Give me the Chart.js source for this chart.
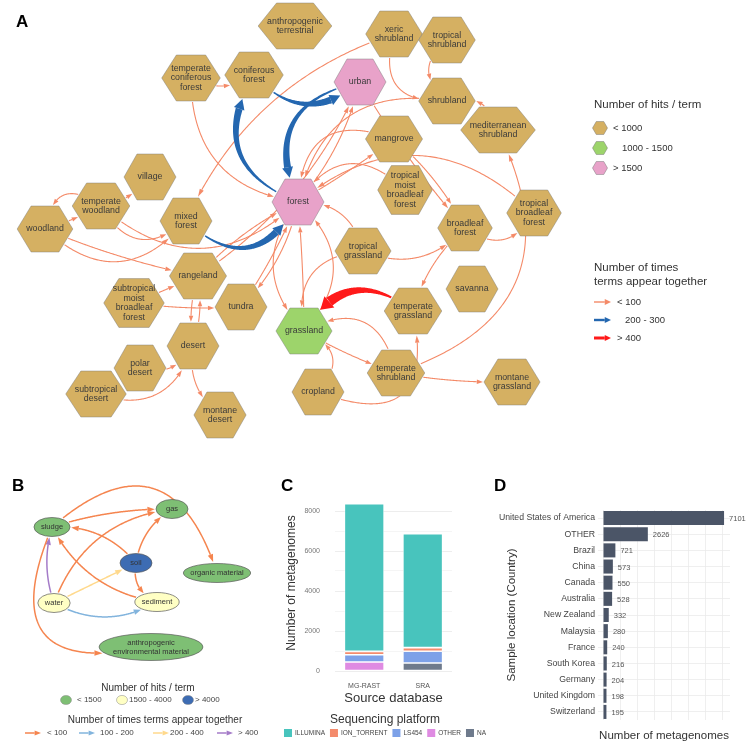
<!DOCTYPE html>
<html>
<head>
<meta charset="utf-8">
<title>Habitat terms and metagenome counts</title>
<script src="https://cdn.jsdelivr.net/npm/chart.js@4.4.1/dist/chart.umd.min.js"></script>
<style>
  html, body { margin: 0; padding: 0; background: #ffffff; }
  #figure { position: relative; width: 756px; height: 749px; overflow: hidden; }
  .panel { position: absolute; }
</style>
</head>
<body>
<div id="figure">
  <div class="panel" style="left:0;top:0;width:756px;height:465px"><canvas id="habitatChart"></canvas></div>
  <div class="panel" style="left:0;top:470px;width:275px;height:279px"><canvas id="materialChart"></canvas></div>
  <div class="panel" style="left:250px;top:470px;width:240px;height:279px"><canvas id="platformChart"></canvas></div>
  <div class="panel" style="left:490px;top:470px;width:266px;height:279px"><canvas id="countryChart"></canvas></div>
</div>
<script>
// ---------- A: habitat terms (layout coordinates) ----------
const habitatNames = [
  'anthropogenic terrestrial', 'temperate coniferous forest', 'coniferous forest', 'urban',
  'xeric shrubland', 'tropical shrubland', 'shrubland', 'mediterranean shrubland',
  'mangrove', 'tropical moist broadleaf forest', 'broadleaf forest', 'tropical broadleaf forest',
  'village', 'temperate woodland', 'woodland', 'mixed forest', 'forest',
  'rangeland', 'subtropical moist broadleaf forest', 'tundra', 'tropical grassland',
  'savanna', 'temperate grassland', 'grassland', 'desert', 'polar desert',
  'subtropical desert', 'montane desert', 'cropland', 'temperate shrubland', 'montane grassland'
];
const habitatX = [295, 191, 254, 360, 394, 447, 447, 498, 394, 405, 465, 534, 150, 101, 45, 186, 298,
  198, 134, 241, 363, 472, 413, 304, 193, 140, 96, 220, 318, 396, 512];
const habitatY = [26, 78, 75, 82, 34, 40, 101, 130, 139, 190, 228, 213, 177, 206, 229, 221, 202,
  276, 303, 307, 251, 289, 311, 331, 346, 368, 394, 415, 392, 373, 382];
const habitatHits = ['<1000', '<1000', '<1000', '>1500', '<1000', '<1000', '<1000', '<1000',
  '<1000', '<1000', '<1000', '<1000', '<1000', '<1000', '<1000', '<1000', '>1500',
  '<1000', '<1000', '<1000', '<1000', '<1000', '<1000', '1000-1500', '<1000', '<1000',
  '<1000', '<1000', '<1000', '<1000', '<1000'];
const habitatHitClasses = ['<1000', '1000-1500', '>1500'];
const habitatHitLabels = ['< 1000', '1000 - 1500', '> 1500'];
const habitatTogetherClasses = ['<100', '200-300', '>400'];
const habitatTogetherLabels = ['< 100', '200 - 300', '> 400'];
const habitatLinks = [
  ['temperate coniferous forest', 'coniferous forest', '<100'],
  ['temperate coniferous forest', 'forest', '<100'],
  ['xeric shrubland', 'mixed forest', '<100'],
  ['temperate woodland', 'woodland', '<100'],
  ['woodland', 'temperate woodland', '<100'],
  ['temperate woodland', 'village', '<100'],
  ['temperate woodland', 'mixed forest', '<100'],
  ['temperate woodland', 'forest', '<100'],
  ['woodland', 'mixed forest', '<100'],
  ['woodland', 'rangeland', '<100'],
  ['rangeland', 'forest', '<100'],
  ['rangeland', 'urban', '<100'],
  ['subtropical moist broadleaf forest', 'rangeland', '<100'],
  ['rangeland', 'desert', '<100'],
  ['desert', 'rangeland', '<100'],
  ['subtropical moist broadleaf forest', 'tundra', '<100'],
  ['tundra', 'forest', '<100'],
  ['forest', 'tundra', '<100'],
  ['polar desert', 'desert', '<100'],
  ['subtropical desert', 'desert', '<100'],
  ['desert', 'montane desert', '<100'],
  ['forest', 'grassland', '<100'],
  ['grassland', 'forest', '<100'],
  ['grassland', 'forest', '<100'],
  ['tropical grassland', 'forest', '<100'],
  ['tropical grassland', 'grassland', '<100'],
  ['mangrove', 'forest', '<100'],
  ['forest', 'mangrove', '<100'],
  ['tropical moist broadleaf forest', 'forest', '<100'],
  ['tropical broadleaf forest', 'forest', '<100'],
  ['shrubland', 'forest', '<100'],
  ['forest', 'urban', '<100'],
  ['urban', 'broadleaf forest', '<100'],
  ['mangrove', 'broadleaf forest', '<100'],
  ['xeric shrubland', 'shrubland', '<100'],
  ['tropical shrubland', 'shrubland', '<100'],
  ['mediterranean shrubland', 'shrubland', '<100'],
  ['temperate shrubland', 'mediterranean shrubland', '<100'],
  ['broadleaf forest', 'tropical broadleaf forest', '<100'],
  ['tropical grassland', 'broadleaf forest', '<100'],
  ['broadleaf forest', 'temperate grassland', '<100'],
  ['temperate shrubland', 'grassland', '<100'],
  ['grassland', 'temperate shrubland', '<100'],
  ['cropland', 'grassland', '<100'],
  ['cropland', 'temperate grassland', '<100'],
  ['temperate shrubland', 'montane grassland', '<100'],
  ['forest', 'coniferous forest', '200-300'],
  ['urban', 'forest', '200-300'],
  ['coniferous forest', 'urban', '200-300'],
  ['mixed forest', 'forest', '200-300'],
  ['temperate grassland', 'grassland', '>400']
];

// ---------- B: environmental material terms ----------
const materialNames = ['sludge', 'gas', 'soil', 'organic material', 'water', 'sediment',
  'anthropogenic environmental material'];
const materialX = [52, 172, 136, 217, 54, 157, 151];
const materialY = [57, 39, 93, 103, 133, 132, 177];
const materialHits = ['<1500', '<1500', '>4000', '<1500', '1500-4000', '1500-4000', '<1500'];
const materialHitClasses = ['<1500', '1500-4000', '>4000'];
const materialHitLabels = ['< 1500', '1500 - 4000', '> 4000'];
const materialTogetherClasses = ['<100', '100-200', '200-400', '>400'];
const materialTogetherLabels = ['< 100', '100 - 200', '200 - 400', '> 400'];
const materialLinks = [
  ['sludge', 'gas', '<100'],
  ['sludge', 'organic material', '<100'],
  ['soil', 'sludge', '<100'],
  ['soil', 'gas', '<100'],
  ['soil', 'sediment', '<100'],
  ['water', 'gas', '<100'],
  ['water', 'soil', '200-400'],
  ['water', 'sediment', '100-200'],
  ['water', 'sludge', '>400'],
  ['sediment', 'sludge', '<100'],
  ['sludge', 'anthropogenic environmental material', '<100']
];

// ---------- C: metagenomes per source database ----------
const sourceDatabases = ['MG-RAST', 'SRA'];
const platformNames = ['ILLUMINA', 'ION_TORRENT', 'LS454', 'OTHER', 'NA'];
const illuminaCounts = [7385, 5700];
const ionTorrentCounts = [165, 185];
const ls454Counts = [365, 585];
const otherPlatformCounts = [450, 0];
const naPlatformCounts = [0, 400];
const platformTicks = [0, 2000, 4000, 6000, 8000];

// ---------- D: metagenomes per country ----------
const countries = ['United States of America', 'OTHER', 'Brazil', 'China', 'Canada', 'Australia',
  'New Zealand', 'Malaysia', 'France', 'South Korea', 'Germany', 'United Kingdom', 'Switzerland'];
const countryCounts = [7101, 2626, 721, 573, 550, 528, 332, 280, 240, 216, 204, 198, 195];

// ---------- styles ----------
const FONT = "'Liberation Sans', Arial, Helvetica, sans-serif";
const habitatHitColors = { '<1000': '#D5B062', '1000-1500': '#9DD46B', '>1500': '#E8A2C9' };
const habitatLinkStyles = {
  '<100': { color: '#F48A68', width: 1.1, head: 6, headWidth: 4.5 },
  '200-300': { color: '#2467B0', width: 7, head: 10, headWidth: 11, taper: true },
  '>400': { color: '#FF1A1A', width: 10, head: 12, headWidth: 15, taper: true }
};
// curvature of each habitat link (+ bends to the right of travel)
const habitatLinkBends = [0.3, 0.43, 0.22, 0.8, 0.05, 0.2, 0.6, 0.45, 0.52, 0.05, -0.1, 0.15, 0,
  0.12, 0.12, 0.05, 0.05, -0.15, 0.4, 0.5, 0.3, 0.43, 0.5, 0.02, 0.4, 0.55, 0.68, 0.03, 0.6,
  0.44, 0.47, 0.12, 0.05, -0.1, 0.7, 0.6, 0.5, 0.57, 0.55, 0.35, 0.15, 0.65, 0.05, 0.7, 0.9,
  0.05, -0.58, 0.6, 0.48, 0.64, 0.55];
const materialHitColors = { '<1500': '#7EBF74', '1500-4000': '#FFFFC4', '>4000': '#3D6CB3' };
const materialLinkStyles = {
  '<100': { color: '#F5854F', width: 1.5, head: 7, headWidth: 5.5 },
  '100-200': { color: '#82B4DD', width: 1.5, head: 7, headWidth: 5.5 },
  '200-400': { color: '#FFD98C', width: 1.5, head: 7, headWidth: 5.5 },
  '>400': { color: '#A47BC8', width: 1.5, head: 7, headWidth: 5.5 }
};
const materialLinkBends = [-0.08, -0.75, 0.25, -0.23, 0.4, -0.3, 0, 0.28, -0.16, -0.25, 0.95];
const platformColors = { ILLUMINA: '#48C4BD', ION_TORRENT: '#F48B6C', LS454: '#7DA1E8', OTHER: '#DF8BE2', NA: '#6E7A8C' };
const platformSeries = { ILLUMINA: illuminaCounts, ION_TORRENT: ionTorrentCounts, LS454: ls454Counts, OTHER: otherPlatformCounts, NA: naPlatformCounts };
const thousandSteps = n => Array.from({ length: n }, (_, i) => ({ value: i * 1000 }));

// ---------- network drawing helpers ----------
function hexPath(ctx, x, y, w, h) {
  ctx.beginPath();
  ctx.moveTo(x - w / 2, y);
  ctx.lineTo(x - w / 4, y - h / 2);
  ctx.lineTo(x + w / 4, y - h / 2);
  ctx.lineTo(x + w / 2, y);
  ctx.lineTo(x + w / 4, y + h / 2);
  ctx.lineTo(x - w / 4, y + h / 2);
  ctx.closePath();
}

function hexInside(s, px, py) {
  const hw = s.w / 2 + 1, hh = s.h / 2 + 1;
  const dx = Math.abs(px - s.x), dy = Math.abs(py - s.y);
  return dy <= hh && dx <= hw - (hw / 2) * (dy / hh);
}

function ellipseInside(s, px, py) {
  const dx = (px - s.x) / (s.w / 2 + 1), dy = (py - s.y) / (s.h / 2 + 1);
  return dx * dx + dy * dy <= 1;
}

function clippedCurve(a, b, bend) {
  const dx = b.x - a.x, dy = b.y - a.y;
  const cx = (a.x + b.x) / 2 - dy * bend, cy = (a.y + b.y) / 2 + dx * bend;
  const at = t => {
    const u = 1 - t;
    return { x: u * u * a.x + 2 * u * t * cx + t * t * b.x, y: u * u * a.y + 2 * u * t * cy + t * t * b.y };
  };
  let t0 = 0, t1 = 1;
  for (let t = 0; t <= 1; t += 0.003) { const p = at(t); if (!a.inside(p.x, p.y)) { t0 = t; break; } }
  for (let t = 1; t >= 0; t -= 0.003) { const p = at(t); if (!b.inside(p.x, p.y)) { t1 = t; break; } }
  if (t1 <= t0) return [];
  const pts = [];
  const n = Math.max(4, Math.ceil((t1 - t0) * 150));
  for (let i = 0; i <= n; i++) pts.push(at(t0 + (t1 - t0) * i / n));
  return pts;
}

function straightPoints(x1, y1, x2, y2) {
  const pts = [];
  for (let i = 0; i <= 30; i++) pts.push({ x: x1 + (x2 - x1) * i / 30, y: y1 + (y2 - y1) * i / 30 });
  return pts;
}

function drawLink(ctx, pts, style) {
  if (pts.length < 2) return;
  const tip = pts[pts.length - 1];
  let k = pts.length - 1, run = 0;
  while (k > 0 && run < style.head) {
    run += Math.hypot(pts[k].x - pts[k - 1].x, pts[k].y - pts[k - 1].y);
    k--;
  }
  const base = pts[k];
  ctx.save();
  ctx.fillStyle = style.color;
  ctx.strokeStyle = style.color;
  if (style.taper) {
    const left = [], right = [];
    for (let i = 0; i <= k; i++) {
      const p = pts[i], q = pts[Math.min(i + 1, pts.length - 1)], r = pts[Math.max(i - 1, 0)];
      const tx = q.x - r.x, ty = q.y - r.y, tl = Math.hypot(tx, ty) || 1;
      const w = style.width * (0.2 + 0.8 * i / Math.max(k, 1)) / 2;
      left.push({ x: p.x - ty / tl * w, y: p.y + tx / tl * w });
      right.push({ x: p.x + ty / tl * w, y: p.y - tx / tl * w });
    }
    ctx.beginPath();
    ctx.moveTo(left[0].x, left[0].y);
    left.forEach(p => ctx.lineTo(p.x, p.y));
    right.reverse().forEach(p => ctx.lineTo(p.x, p.y));
    ctx.closePath();
    ctx.fill();
  } else {
    ctx.lineWidth = style.width;
    ctx.beginPath();
    ctx.moveTo(pts[0].x, pts[0].y);
    for (let i = 1; i <= k; i++) ctx.lineTo(pts[i].x, pts[i].y);
    ctx.stroke();
  }
  const ux = tip.x - base.x, uy = tip.y - base.y, ul = Math.hypot(ux, uy) || 1;
  const nx = -uy / ul * style.headWidth / 2, ny = ux / ul * style.headWidth / 2;
  ctx.beginPath();
  ctx.moveTo(tip.x, tip.y);
  ctx.lineTo(base.x + nx, base.y + ny);
  ctx.lineTo(base.x - nx, base.y - ny);
  ctx.closePath();
  ctx.fill();
  ctx.restore();
}

function panelLetter(letter, x, y) {
  return {
    id: 'panelLetter' + letter,
    afterDraw(chart) {
      const ctx = chart.ctx;
      ctx.save();
      ctx.font = `bold 17px ${FONT}`;
      ctx.fillStyle = '#000';
      ctx.textBaseline = 'alphabetic';
      ctx.fillText(letter, x, y);
      ctx.restore();
    }
  };
}

// ---------- A ----------
const habitatNetwork = {
  id: 'habitatNetwork',
  beforeDatasetsDraw(chart) {
    const ctx = chart.ctx;
    const points = chart.getDatasetMeta(0).data;
    ctx.save();
    ctx.font = `8.8px ${FONT}`;
    const shapes = {};
    habitatNames.forEach((name, i) => {
      const lines = name.split(' ');
      const tw = Math.max(...lines.map(l => ctx.measureText(l).width));
      const s = {
        x: points[i].x, y: points[i].y, lines, hits: habitatHits[i],
        w: Math.max(52, tw + 18), h: Math.max(46, lines.length * 9.7 + 10)
      };
      s.inside = (px, py) => hexInside(s, px, py);
      shapes[name] = s;
    });
    habitatLinks.forEach(([from, to, together], i) => {
      drawLink(ctx, clippedCurve(shapes[from], shapes[to], habitatLinkBends[i]), habitatLinkStyles[together]);
    });
    Object.values(shapes).forEach(s => {
      hexPath(ctx, s.x, s.y, s.w, s.h);
      ctx.fillStyle = habitatHitColors[s.hits];
      ctx.fill();
      ctx.lineWidth = 0.8;
      ctx.strokeStyle = 'rgba(120,120,120,0.55)';
      ctx.stroke();
      ctx.fillStyle = '#3a3a3a';
      ctx.textAlign = 'center';
      ctx.textBaseline = 'middle';
      const y0 = s.y - (s.lines.length - 1) * 9.7 / 2;
      s.lines.forEach((l, j) => ctx.fillText(l, s.x, y0 + j * 9.7));
    });
    ctx.restore();
  },
  afterDraw(chart) {
    const ctx = chart.ctx;
    ctx.save();
    ctx.textAlign = 'left';
    ctx.textBaseline = 'middle';
    ctx.fillStyle = '#333';
    ctx.font = `11.5px ${FONT}`;
    ctx.fillText('Number of hits / term', 594, 105);
    const hitLabelX = [613, 622, 613];
    habitatHitClasses.forEach((c, i) => {
      const y = 128 + i * 20;
      hexPath(ctx, 600, y, 15, 13);
      ctx.fillStyle = habitatHitColors[c];
      ctx.fill();
      ctx.lineWidth = 0.8;
      ctx.strokeStyle = 'rgba(120,120,120,0.6)';
      ctx.stroke();
      ctx.fillStyle = '#333';
      ctx.font = `9.5px ${FONT}`;
      ctx.fillText(habitatHitLabels[i], hitLabelX[i], y);
    });
    ctx.font = `11.5px ${FONT}`;
    ctx.fillText('Number of times', 594, 268);
    ctx.fillText('terms appear together', 594, 282);
    const linkLabelX = [617, 625, 617];
    const legendWidths = [1.4, 2.4, 3];
    habitatTogetherClasses.forEach((c, i) => {
      const y = 302 + i * 18;
      const st = habitatLinkStyles[c];
      drawLink(ctx, straightPoints(594, y, 611, y), { color: st.color, width: legendWidths[i], head: 6, headWidth: 6 });
      ctx.fillStyle = '#333';
      ctx.font = `9.5px ${FONT}`;
      ctx.fillText(habitatTogetherLabels[i], linkLabelX[i], y);
    });
    ctx.restore();
  }
};

new Chart(document.getElementById('habitatChart'), {
  type: 'scatter',
  data: {
    datasets: [{
      data: habitatNames.map((n, i) => ({ x: habitatX[i], y: habitatY[i] })),
      pointRadius: 0,
      pointHoverRadius: 0
    }]
  },
  options: {
    responsive: true,
    maintainAspectRatio: false,
    animation: false,
    events: [],
    layout: { padding: 0 },
    scales: {
      x: { display: false, min: 0, max: 756 },
      y: { display: false, min: 0, max: 465, reverse: true }
    },
    plugins: { legend: { display: false }, tooltip: { enabled: false } }
  },
  plugins: [habitatNetwork, panelLetter('A', 16, 27)]
});

// ---------- B ----------
const materialNetwork = {
  id: 'materialNetwork',
  beforeDatasetsDraw(chart) {
    const ctx = chart.ctx;
    const points = chart.getDatasetMeta(0).data;
    ctx.save();
    ctx.font = `7.5px ${FONT}`;
    const shapes = {};
    materialNames.forEach((name, i) => {
      const cut = name.indexOf(' ');
      const lines = name.length > 20 ? [name.slice(0, cut), name.slice(cut + 1)] : [name];
      const tw = Math.max(...lines.map(l => ctx.measureText(l).width));
      const s = {
        x: points[i].x, y: points[i].y, lines, hits: materialHits[i],
        w: Math.max(32, tw + (lines.length > 1 ? 28 : 14)), h: lines.length > 1 ? 27 : 19
      };
      s.inside = (px, py) => ellipseInside(s, px, py);
      shapes[name] = s;
    });
    materialLinks.forEach(([from, to, together], i) => {
      drawLink(ctx, clippedCurve(shapes[from], shapes[to], materialLinkBends[i]), materialLinkStyles[together]);
    });
    Object.values(shapes).forEach(s => {
      ctx.beginPath();
      ctx.ellipse(s.x, s.y, s.w / 2, s.h / 2, 0, 0, Math.PI * 2);
      ctx.fillStyle = materialHitColors[s.hits];
      ctx.fill();
      ctx.lineWidth = 0.7;
      ctx.strokeStyle = '#5a5a5a';
      ctx.stroke();
      ctx.fillStyle = '#333';
      ctx.textAlign = 'center';
      ctx.textBaseline = 'middle';
      const y0 = s.y - (s.lines.length - 1) * 9 / 2;
      s.lines.forEach((l, j) => ctx.fillText(l, s.x, y0 + j * 9));
    });
    ctx.restore();
  },
  afterDraw(chart) {
    const ctx = chart.ctx;
    ctx.save();
    ctx.fillStyle = '#333';
    ctx.textBaseline = 'middle';
    ctx.textAlign = 'center';
    ctx.font = `10px ${FONT}`;
    ctx.fillText('Number of hits / term', 148, 218);
    const dotX = [66, 122, 188];
    const hitTextX = [77, 129, 195];
    ctx.textAlign = 'left';
    materialHitClasses.forEach((c, i) => {
      ctx.beginPath();
      ctx.ellipse(dotX[i], 230, 5.5, 4.6, 0, 0, Math.PI * 2);
      ctx.fillStyle = materialHitColors[c];
      ctx.fill();
      ctx.lineWidth = 0.5;
      ctx.strokeStyle = '#888';
      ctx.stroke();
      ctx.fillStyle = '#444';
      ctx.font = `8px ${FONT}`;
      ctx.fillText(materialHitLabels[i], hitTextX[i], 230);
    });
    ctx.fillStyle = '#333';
    ctx.textAlign = 'center';
    ctx.font = `10px ${FONT}`;
    ctx.fillText('Number of times terms appear together', 155, 250);
    const arrowX = [25, 79, 153, 217];
    const linkTextX = [47, 100, 170, 238];
    ctx.textAlign = 'left';
    materialTogetherClasses.forEach((c, i) => {
      const st = materialLinkStyles[c];
      drawLink(ctx, straightPoints(arrowX[i], 263, arrowX[i] + 16, 263), { color: st.color, width: 1.5, head: 6, headWidth: 5 });
      ctx.fillStyle = '#444';
      ctx.font = `8px ${FONT}`;
      ctx.fillText(materialTogetherLabels[i], linkTextX[i], 263);
    });
    ctx.restore();
  }
};

new Chart(document.getElementById('materialChart'), {
  type: 'scatter',
  data: {
    datasets: [{
      data: materialNames.map((n, i) => ({ x: materialX[i], y: materialY[i] })),
      pointRadius: 0,
      pointHoverRadius: 0
    }]
  },
  options: {
    responsive: true,
    maintainAspectRatio: false,
    animation: false,
    events: [],
    layout: { padding: 0 },
    scales: {
      x: { display: false, min: 0, max: 275 },
      y: { display: false, min: 0, max: 279, reverse: true }
    },
    plugins: { legend: { display: false }, tooltip: { enabled: false } }
  },
  plugins: [materialNetwork, panelLetter('B', 12, 21)]
});

// ---------- C ----------
const platformLegend = {
  id: 'platformLegend',
  afterDraw(chart) {
    const ctx = chart.ctx;
    ctx.save();
    ctx.fillStyle = '#333';
    ctx.textAlign = 'center';
    ctx.textBaseline = 'middle';
    ctx.font = `12px ${FONT}`;
    ctx.fillText('Sequencing platform', 135, 250);
    ctx.font = `6.5px ${FONT}`;
    const widths = platformNames.map(p => 8 + 3 + ctx.measureText(p).width);
    const total = widths.reduce((a, b) => a + b, 0) + 5 * (platformNames.length - 1);
    let x = 135 - total / 2;
    ctx.textAlign = 'left';
    platformNames.forEach((p, i) => {
      ctx.fillStyle = platformColors[p];
      ctx.fillRect(x, 259, 8, 8);
      ctx.fillStyle = '#444';
      ctx.fillText(p, x + 11, 263.5);
      x += widths[i] + 5;
    });
    ctx.restore();
  }
};

new Chart(document.getElementById('platformChart'), {
  type: 'bar',
  data: {
    labels: sourceDatabases,
    datasets: platformNames.slice().reverse().map(p => ({
      label: p,
      data: platformSeries[p],
      backgroundColor: platformColors[p],
      borderColor: 'rgba(255,255,255,0.85)',
      borderWidth: 0.8,
      borderSkipped: false,
      barPercentage: 0.68,
      categoryPercentage: 1
    }))
  },
  options: {
    responsive: true,
    maintainAspectRatio: false,
    animation: false,
    events: [],
    layout: { padding: { left: 30, right: 38, top: 25, bottom: 40 } },
    scales: {
      x: {
        stacked: true,
        border: { display: false },
        grid: { display: false, drawTicks: false },
        ticks: { color: '#555', font: { size: 7, family: FONT }, padding: 11 },
        title: { display: true, text: 'Source database', color: '#333', font: { size: 13, family: FONT }, padding: { top: 0, bottom: 3 } },
        afterFit: s => { s.height = 38; }
      },
      y: {
        stacked: true,
        min: 0,
        max: 8800,
        border: { display: false },
        afterBuildTicks: s => { s.ticks = thousandSteps(9); },
        grid: {
          drawTicks: false,
          color: '#EBEBEB',
          lineWidth: c => (c.tick && c.tick.value % 2000 === 0) ? 0.9 : 0.5
        },
        ticks: {
          padding: 15,
          color: '#777',
          font: { size: 7, family: FONT },
          callback: v => (platformTicks.includes(v) ? String(v) : '')
        },
        title: { display: true, text: 'Number of metagenomes', color: '#333', font: { size: 12, family: FONT }, padding: { top: 4, bottom: 0 } },
        afterFit: s => { s.width = 55; }
      }
    },
    plugins: { legend: { display: false }, tooltip: { enabled: false } }
  },
  plugins: [platformLegend, panelLetter('C', 31, 21)]
});

// ---------- D ----------
const countValueLabels = {
  id: 'countValueLabels',
  afterDatasetsDraw(chart) {
    const ctx = chart.ctx;
    const values = chart.data.datasets[0].data;
    ctx.save();
    ctx.font = `7.5px ${FONT}`;
    ctx.fillStyle = '#555';
    ctx.textAlign = 'left';
    ctx.textBaseline = 'middle';
    chart.getDatasetMeta(0).data.forEach((bar, i) => ctx.fillText(String(values[i]), bar.x + 5, bar.y + 1));
    ctx.restore();
  }
};

new Chart(document.getElementById('countryChart'), {
  type: 'bar',
  data: {
    labels: countries,
    datasets: [{
      data: countryCounts,
      backgroundColor: '#4B5567',
      barPercentage: 0.87,
      categoryPercentage: 1
    }]
  },
  options: {
    indexAxis: 'y',
    responsive: true,
    maintainAspectRatio: false,
    animation: false,
    events: [],
    layout: { padding: { left: 0, right: 26, top: 40, bottom: 0 } },
    scales: {
      x: {
        min: -300,
        max: 7450,
        border: { display: false },
        afterBuildTicks: s => { s.ticks = thousandSteps(8); },
        grid: { drawTicks: false, color: '#EBEBEB', lineWidth: 0.8 },
        ticks: { display: false },
        title: { display: true, text: 'Number of metagenomes', color: '#333', font: { size: 11.5, family: FONT }, padding: { top: 0, bottom: 6 } },
        afterFit: s => { s.height = 29; }
      },
      y: {
        border: { display: false },
        grid: { offset: false, drawTicks: false, color: '#EBEBEB', lineWidth: 0.8 },
        ticks: { color: '#444', font: { size: 8.7, family: FONT }, padding: 3, autoSkip: false },
        title: { display: true, text: 'Sample location (Country)', color: '#333', font: { size: 11.5, family: FONT }, padding: { top: 15, bottom: 0 } },
        afterFit: s => { s.width = 108; }
      }
    },
    plugins: { legend: { display: false }, tooltip: { enabled: false } }
  },
  plugins: [countValueLabels, panelLetter('D', 4, 21)]
});
</script>
</body>
</html>
